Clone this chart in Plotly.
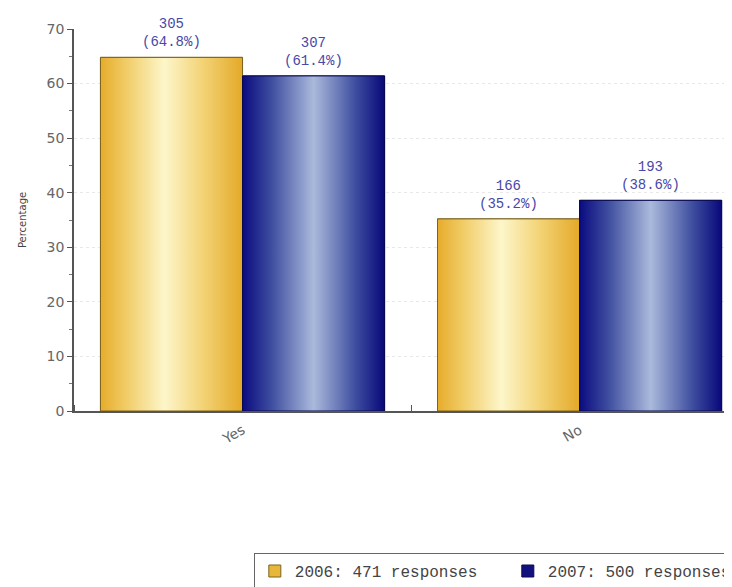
import plotly.graph_objects as go

categories = ["Yes", "No"]
series_names = ["2006: 471 responses", "2007: 500 responses"]
counts_2006 = [305, 166]
counts_2007 = [307, 193]
pct_2006 = [64.8, 35.2]
pct_2007 = [61.4, 38.6]

y_ticks = [0, 10, 20, 30, 40, 50, 60, 70]

bargap = 0.157
w = (1 - bargap) / 2

gold_scale = [[0, "#E6AC2C"], [0.18, "#F1CC66"], [0.45, "#FDF6CA"], [0.72, "#F3D376"], [1, "#E4A928"]]
blue_scale = [[0, "#0B0B80"], [0.2, "#3D4C9E"], [0.5, "#AABADB"], [0.8, "#3D4C9E"], [1, "#08087A"]]

series = [
    (series_names[0], counts_2006, pct_2006, -w, "#E8B73A", "#7A6420", gold_scale),
    (series_names[1], counts_2007, pct_2007, 0.0, "#12127E", "#0A0A50", blue_scale),
]

fig = go.Figure()
xs = list(range(len(categories)))
for name, counts, pct, off, col, lcol, scale in series:
    fig.add_trace(go.Bar(
        x=xs, y=pct, name=name, offset=off, width=w,
        marker=dict(color=col, line=dict(color=lcol, width=1)),
    ))
for name, counts, pct, off, col, lcol, scale in series:
    for xi, c, p in zip(xs, counts, pct):
        x0 = xi + off
        x1 = x0 + w
        fig.add_trace(go.Scatter(
            x=[x0, x1, x1, x0, x0], y=[0, 0, p, p, 0],
            mode="lines", fill="toself",
            fillgradient=dict(type="horizontal", colorscale=scale),
            line=dict(color=lcol, width=1),
            showlegend=False, hoverinfo="skip",
        ))
        fig.add_annotation(
            x=(x0 + x1) / 2, y=p, xref="x", yref="y",
            text=f"{c}<br>({p:.1f}%)", showarrow=False,
            yanchor="bottom", yshift=5,
            font=dict(family="Liberation Mono", size=14, color="#4848A8"),
        )

fig.update_layout(
    width=732, height=587,
    margin=dict(l=66, r=0, t=21, b=184, autoexpand=False),
    plot_bgcolor="white", paper_bgcolor="white",
    barmode="overlay",
    showlegend=True,
    legend=dict(
        orientation="h", x=0.27, y=-0.372, xanchor="left", yanchor="top",
        bordercolor="#666666", borderwidth=1,
        font=dict(family="Liberation Mono", size=16, color="#444444"),
        traceorder="normal", entrywidth=208, entrywidthmode="pixels",
    ),
    xaxis=dict(
        range=[-0.5, 1.476], tickvals=xs, ticktext=categories,
        tickangle=-30, ticks="", showgrid=False, zeroline=False,
        showline=True, linecolor="#555555", linewidth=1.5,
        ticklabelstandoff=4,
        tickfont=dict(family="DejaVu Sans", size=14, color="#666666"),
        minor=dict(tick0=0.5, dtick=1, ticks="inside", ticklen=6, tickcolor="#555555", showgrid=False),
    ),
    yaxis=dict(
        range=[0, 70], tickvals=y_ticks, ticks="outside", ticklen=5,
        tickcolor="#555555", showline=True, linecolor="#555555", linewidth=1.5,
        showgrid=True, gridcolor="#E8E8E8", griddash="dot", zeroline=False,
        tickfont=dict(family="DejaVu Sans", size=14, color="#666666"),
        minor=dict(dtick=5, ticks="outside", ticklen=3, tickcolor="#777777", showgrid=False),
        title=dict(text="Percentage", font=dict(family="DejaVu Sans", size=10, color="#444444"), standoff=18),
    ),
)

fig.write_html("out.html")
